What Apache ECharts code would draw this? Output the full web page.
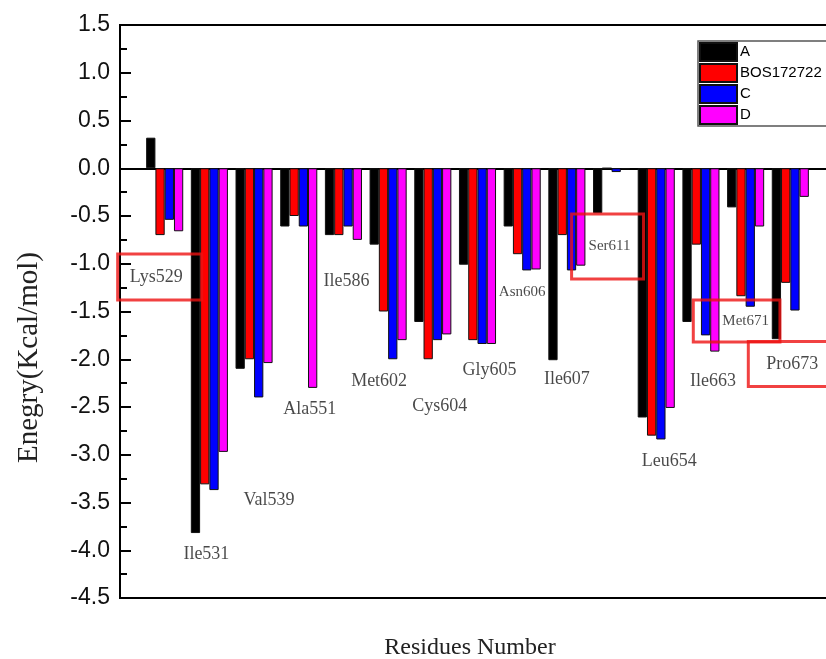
<!DOCTYPE html>
<html>
<head>
<meta charset="utf-8">
<script src="https://cdn.jsdelivr.net/npm/echarts@6/dist/echarts.min.js"></script>
<style>
  html, body { margin: 0; padding: 0; background: #fff; }
  #chart { width: 826px; height: 659px; }
</style>
</head>
<body>
<div id="chart"></div>
<script>
// Per-residue interaction energy (kcal/mol) for four ligands
const residues = ['Lys529', 'Ile531', 'Val539', 'Ala551', 'Ile586', 'Met602', 'Cys604', 'Gly605',
                  'Asn606', 'Ile607', 'Ser611', 'Leu654', 'Ile663', 'Met671', 'Pro673'];
const seriesNames = ['A', 'BOS172722', 'C', 'D'];
const energyA = [0.32, -3.82, -2.10, -0.61, -0.70, -0.80, -1.61, -1.01, -0.61, -2.01, -0.47, -2.61, -1.61, -0.41, -1.79];
const energyBOS = [-0.70, -3.31, -2.00, -0.50, -0.70, -1.50, -2.00, -1.80, -0.90, -0.70, 0.00, -2.80, -0.80, -1.34, -1.20];
const energyC = [-0.54, -3.37, -2.40, -0.61, -0.61, -2.00, -1.80, -1.84, -1.07, -1.07, -0.04, -2.84, -1.75, -1.45, -1.49];
const energyD = [-0.66, -2.97, -2.04, -2.30, -0.75, -1.80, -1.74, -1.84, -1.06, -1.02, -0.01, -2.51, -1.92, -0.61, -0.30];
const yMin = -4.5, yMax = 1.5, yStep = 0.5;

const colors = ['#000000', '#ff0000', '#0000ff', '#ff00ff'];
const seriesValues = [energyA, energyBOS, energyC, energyD];

// category slots: an empty slot on each side of the residues
const categories = [''].concat(residues, ['']);
const pad = arr => [null].concat(arr, [null]);

// residue annotations: anchor (energy value on the y scale), horizontal nudge, font size, optional frame padding
const residueNotes = [
  { name: 'Lys529', at: -1.14, dx: -5, size: 18, box: [15, 19, 13, 12] },
  { name: 'Ile531', at: -4.04, dx: -3, size: 18 },
  { name: 'Val539', at: -3.48, dx: 15, size: 18 },
  { name: 'Ala551', at: -2.52, dx: 11, size: 18 },
  { name: 'Ile586', at: -1.18, dx: 3, size: 18 },
  { name: 'Met602', at: -2.23, dx: -9, size: 18 },
  { name: 'Cys604', at: -2.49, dx: 7, size: 18 },
  { name: 'Gly605', at: -2.12, dx: 12, size: 18 },
  { name: 'Asn606', at: -1.30, dx: 0, size: 15 },
  { name: 'Ile607', at: -2.21, dx: 0, size: 18 },
  { name: 'Ser611', at: -0.82, dx: -4, size: 15, box: [21, 13, 29, 17] },
  { name: 'Leu654', at: -3.07, dx: 13, size: 18 },
  { name: 'Ile663', at: -2.23, dx: 12, size: 18 },
  { name: 'Met671', at: -1.60, dx: -9, size: 15, box: [22, 11, 5, 29] },
  { name: 'Pro673', at: -2.05, dx: 13, size: 18, box: [14, 40, 13, 18] }
];

const barSeries = seriesNames.map((name, k) => ({
  name: name,
  type: 'bar',
  xAxisIndex: 0,
  data: pad(seriesValues[k]),
  barGap: '0%',
  barCategoryGap: '17%',
  itemStyle: { color: colors[k], borderColor: '#111', borderWidth: 1 },
  emphasis: { disabled: true },
  z: 3
}));

const noteSeries = {
  name: 'notes',
  type: 'scatter',
  xAxisIndex: 0,
  symbolSize: 0,
  silent: true,
  z: 6,
  data: residueNotes.map(n => ({
    value: [n.name, n.at],
    label: Object.assign({
      show: true,
      position: 'inside',
      offset: [n.dx, 0],
      formatter: n.name,
      overflow: 'none',
      fontFamily: 'Liberation Serif',
      fontSize: n.size,
      color: '#1a1a1a'
    }, n.box ? { borderColor: '#ee1111', borderWidth: 3, padding: n.box } : {})
  }))
};

const chart = echarts.init(document.getElementById('chart'), null, { renderer: 'canvas' });
chart.setOption({
  animation: false,
  backgroundColor: '#fff',
  grid: {
    left: 120, top: 25, bottom: 61, right: -9,
    show: true, borderColor: '#000', borderWidth: 2, backgroundColor: 'transparent',
    outerBoundsMode: 'none',
    containLabel: false
  },
  legend: {
    data: seriesNames,
    orient: 'vertical',
    left: 698, top: 41,
    icon: 'rect',
    itemWidth: 37, itemHeight: 18, itemGap: 1,
    padding: [1, 60, 1, 1],
    borderColor: '#555', borderWidth: 1.5, backgroundColor: '#fff',
    textStyle: { fontFamily: 'Liberation Sans', fontSize: 15, color: '#000', padding: [0, 0, 0, -2] },
    selectedMode: false
  },
  xAxis: [
    {
      type: 'category', data: categories, boundaryGap: false, position: 'top',
      axisLine: { show: true, onZero: true, lineStyle: { color: '#000', width: 2 } },
      axisTick: { show: false }, axisLabel: { show: false }, splitLine: { show: false }
    },
    {
      type: 'category', data: categories, boundaryGap: false, position: 'bottom',
      axisLine: { show: true, onZero: false, lineStyle: { color: '#000', width: 2 } },
      axisTick: { show: false }, axisLabel: { show: false }, splitLine: { show: false },
      name: 'Residues Number', nameLocation: 'middle', nameGap: 38,
      nameTextStyle: { fontFamily: 'Liberation Serif', fontSize: 24, color: '#222', padding: [0, 15, 0, 0] }
    }
  ],
  yAxis: {
    type: 'value', min: yMin, max: yMax, interval: yStep,
    axisLine: { show: true, lineStyle: { color: '#000', width: 2 } },
    axisTick: { show: true, inside: true, length: 11, lineStyle: { color: '#000', width: 2 } },
    minorTick: { show: true, splitNumber: 2, length: 7, lineStyle: { color: '#000', width: 2 } },
    axisLabel: {
      margin: 10, fontFamily: 'Liberation Sans', fontSize: 23, color: '#111',
      formatter: v => v.toFixed(1)
    },
    splitLine: { show: false },
    name: 'Enegry(Kcal/mol)', nameLocation: 'middle', nameGap: 76, nameRotate: 90,
    nameTextStyle: { fontFamily: 'Liberation Serif', fontSize: 29, color: '#222', padding: [0, 92, 0, 0] }
  },
  series: barSeries.concat([noteSeries])
});
</script>
</body>
</html>
